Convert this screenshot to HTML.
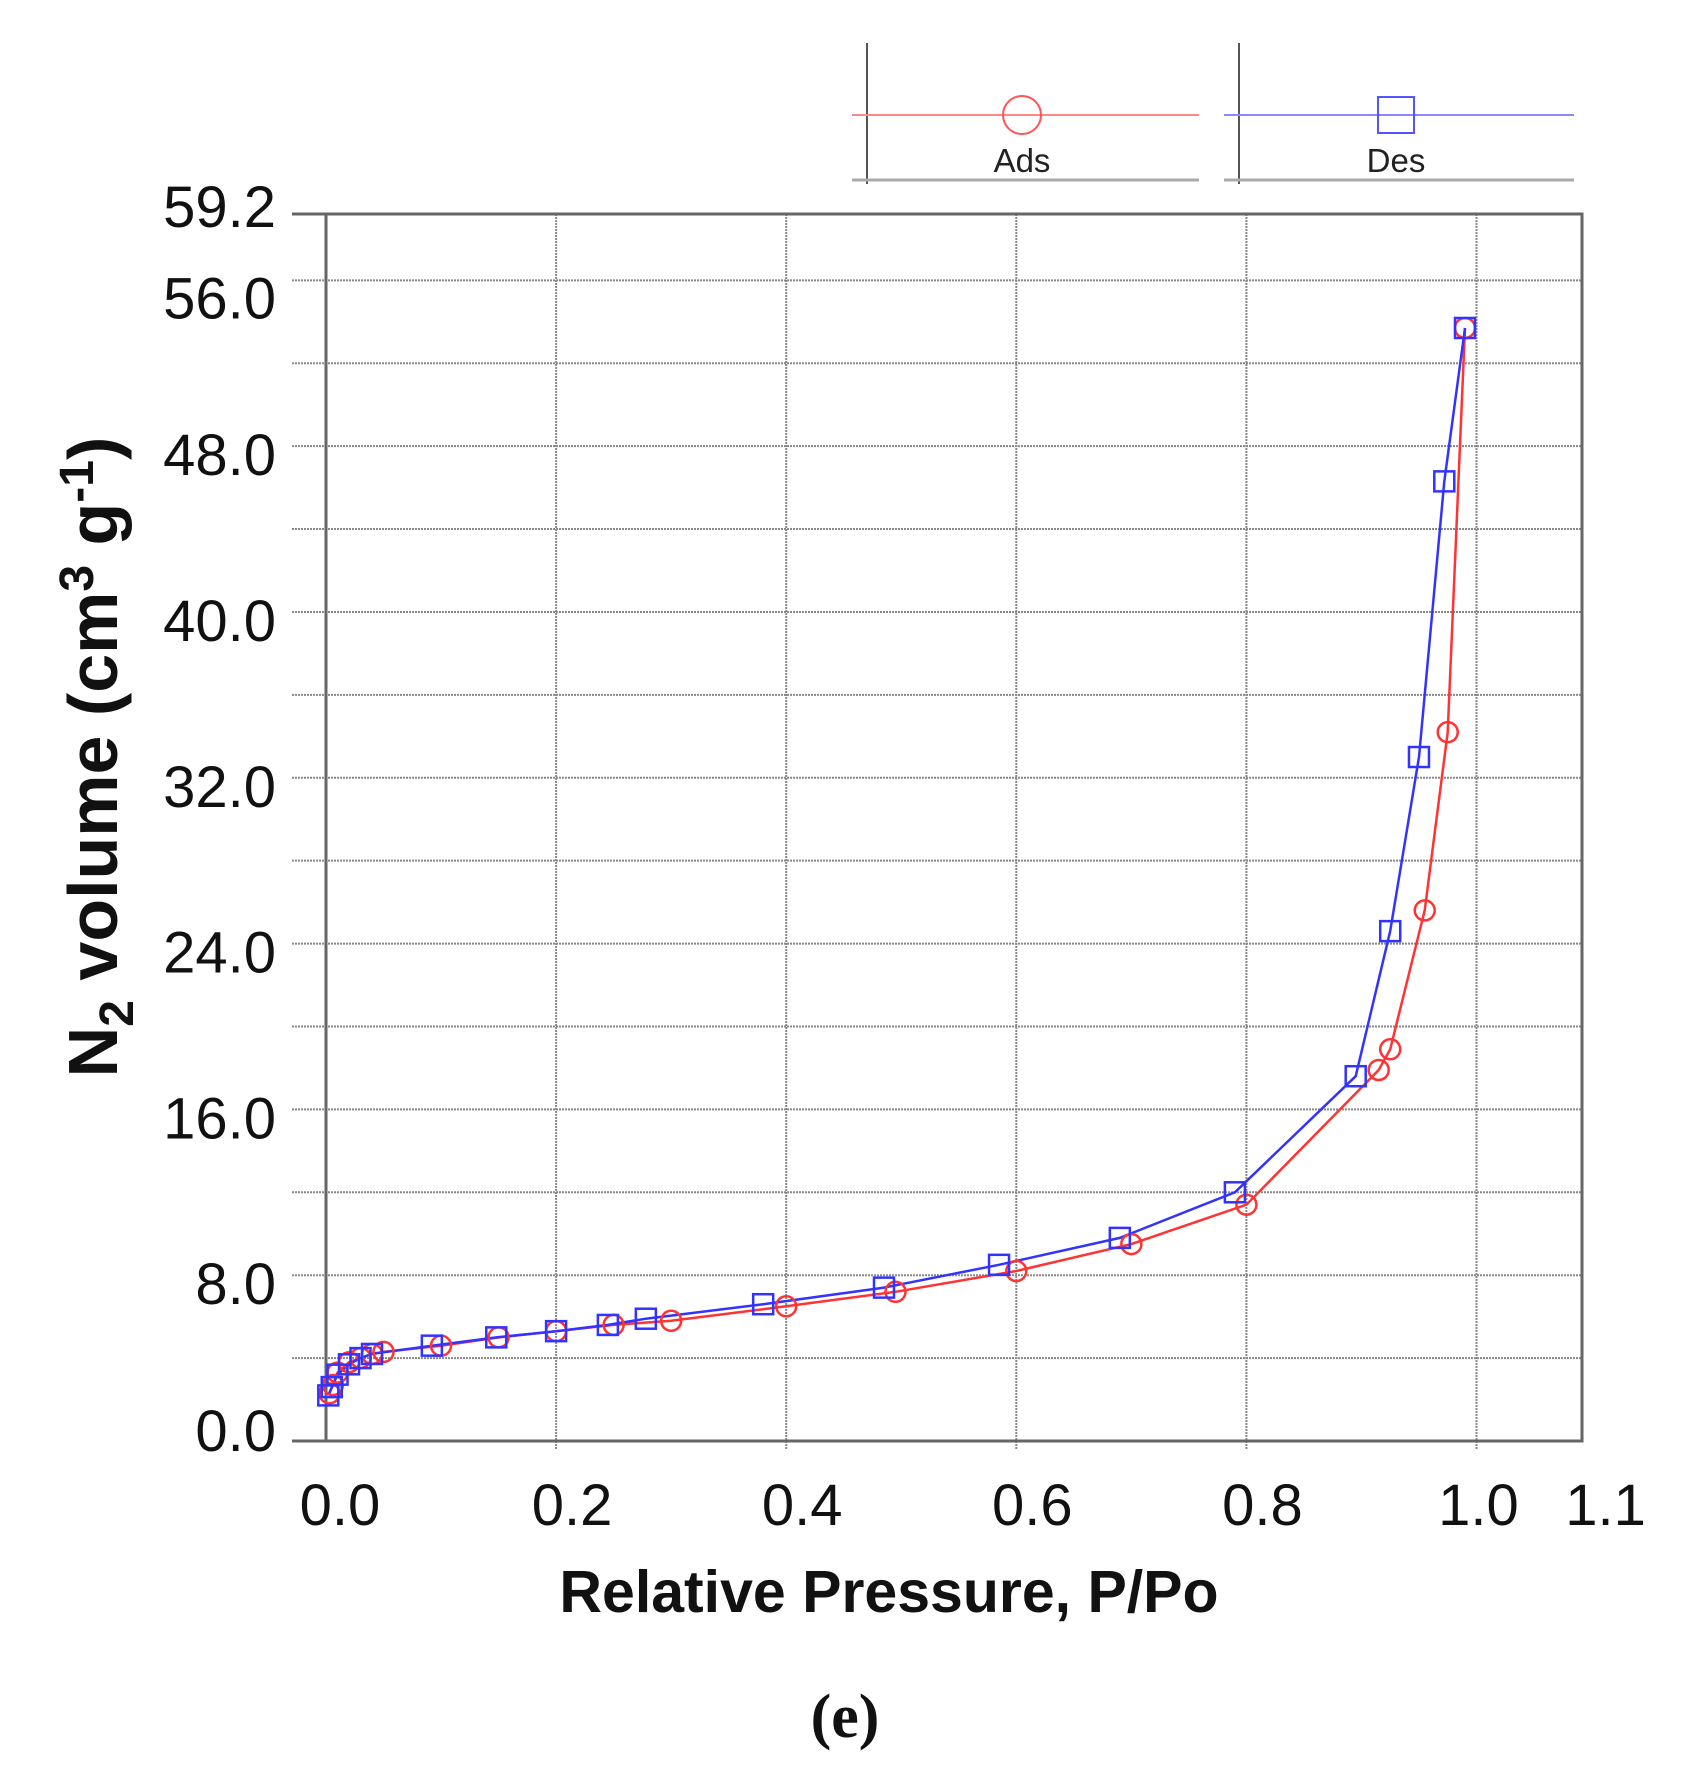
<!DOCTYPE html>
<html><head><meta charset="utf-8"><style>
html,body{margin:0;padding:0;background:#fff;}
svg{display:block;}
text{font-family:"Liberation Sans",Arial,sans-serif;}
</style></head><body>
<svg id="chart" width="1708" height="1779" viewBox="0 0 1708 1779" xmlns="http://www.w3.org/2000/svg">
<g id="grid"></g>
<g id="axes"></g>
<g id="series"></g>
<g id="legend">
  <line x1="867" y1="43" x2="867" y2="184" stroke="#555" stroke-width="2"/>
  <line x1="852" y1="115" x2="1199" y2="115" stroke="#f88" stroke-width="2"/>
  <circle cx="1022" cy="115" r="19" fill="none" stroke="#f55" stroke-width="2"/>
  <line x1="852" y1="180" x2="1199" y2="180" stroke="#aaa" stroke-width="3"/>
  <text x="1022" y="172" font-size="33" text-anchor="middle" fill="#222">Ads</text>
  <line x1="1239" y1="43" x2="1239" y2="184" stroke="#555" stroke-width="2"/>
  <line x1="1224" y1="115" x2="1574" y2="115" stroke="#88f" stroke-width="2"/>
  <rect x="1378" y="97" width="36" height="36" fill="none" stroke="#55f" stroke-width="2"/>
  <line x1="1224" y1="180" x2="1574" y2="180" stroke="#aaa" stroke-width="3"/>
  <text x="1396" y="172" font-size="33" text-anchor="middle" fill="#222">Des</text>
</g>
<text x="889" y="1612" font-size="59" font-weight="bold" text-anchor="middle" fill="#111">Relative Pressure, P/Po</text>
<text transform="translate(117,757) rotate(-90)" font-size="70" font-weight="bold" text-anchor="middle" fill="#111">N<tspan font-size="48" dy="16">2</tspan><tspan dy="-16"> volume (cm</tspan><tspan font-size="48" dy="-24">3</tspan><tspan dy="24"> g</tspan><tspan font-size="48" dy="-24">-1</tspan><tspan dy="24">)</tspan></text>
<text x="845" y="1737" font-size="62" font-weight="bold" text-anchor="middle" fill="#111" style="font-family:'Liberation Serif',serif">(e)</text>
</svg>
<script>
const adsX=[0.003,0.006,0.01,0.02,0.03,0.04,0.05,0.1,0.15,0.2,0.25,0.3,0.4,0.495,0.6,0.7,0.8,0.915,0.925,0.955,0.975,0.99];
const adsY=[2.3,2.7,3.3,3.8,4.0,4.2,4.3,4.6,5.0,5.3,5.6,5.8,6.5,7.2,8.2,9.5,11.4,17.9,18.9,25.6,34.2,53.7];
const desX=[0.99,0.972,0.95,0.925,0.895,0.79,0.69,0.585,0.485,0.38,0.278,0.245,0.2,0.148,0.092,0.04,0.03,0.02,0.01,0.005,0.002];
const desY=[53.7,46.3,33.0,24.6,17.6,12.0,9.8,8.5,7.4,6.6,5.9,5.6,5.3,5.0,4.6,4.2,4.0,3.7,3.2,2.6,2.2];
const xTicks=[0.0,0.2,0.4,0.6,0.8,1.0,1.1];
const xTickLabels=["0.0","0.2","0.4","0.6","0.8","1.0","1.1"];
const yGrid=[4,8,12,16,20,24,28,32,36,40,44,48,52,56];
const yTicks=[0,8,16,24,32,40,48,56,59.2];
const yTickLabels=["0.0","8.0","16.0","24.0","32.0","40.0","48.0","56.0","59.2"];
const NS="http://www.w3.org/2000/svg";
const X0=326,XR=1582,XPU=1150.5,Y0=1441,Y1=214,YMAX=59.2;
const sx=v=>X0+XPU*v, sy=v=>Y0-(Y0-Y1)*v/YMAX;
function mk(tag,attrs,parent){const e=document.createElementNS(NS,tag);for(const k in attrs)e.setAttribute(k,attrs[k]);parent.appendChild(e);return e;}
const grid=document.getElementById('grid'),axes=document.getElementById('axes'),series=document.getElementById('series');
yGrid.forEach(v=>{const l=mk('line',{x1:292,x2:XR,y1:sy(v),y2:sy(v),stroke:'#888','stroke-width':2,'stroke-dasharray':'2,1'},grid);

});
xTicks.forEach(v=>{if(v===0||v>=1.1)return;const l=mk('line',{x1:sx(v),x2:sx(v),y1:Y1,y2:Y0+8,stroke:'#888','stroke-width':2,'stroke-dasharray':'2,1'},grid);

});
mk('rect',{x:X0,y:Y1,width:XR-X0,height:Y0-Y1,fill:'none',stroke:'#666','stroke-width':3},axes);
mk('line',{x1:292,x2:X0,y1:Y1,y2:Y1,stroke:'#666','stroke-width':3},axes);
mk('line',{x1:292,x2:X0,y1:Y0,y2:Y0,stroke:'#666','stroke-width':3},axes);
yTicks.forEach((v,i)=>{const off=(v===0)?10:(v===56?38:(v===59.2?13:29));const t=mk('text',{x:276,y:sy(v)+off,'font-size':58,'text-anchor':'end',fill:'#111'},axes);t.textContent=yTickLabels[i];

});
xTicks.forEach((v,i)=>{const dx=(i===0)?14:(i===5?2:(i===6?14:16));const t=mk('text',{x:sx(v)+dx,y:1525,'font-size':58,'text-anchor':'middle',fill:'#111'},axes);t.textContent=xTickLabels[i];

});
function line(xs,ys,col,name){const d=xs.map((x,i)=>(i?'L':'M')+sx(x).toFixed(1)+','+sy(ys[i]).toFixed(1)).join('');
const p=mk('path',{d:d,fill:'none',stroke:col,'stroke-width':2.5},series);

}
line(adsX,adsY,'#f33','ads-line');
line(desX,desY,'#33f','des-line');
adsX.forEach((x,i)=>{const c=mk('circle',{cx:sx(x),cy:sy(adsY[i]),r:10,fill:'none',stroke:'#f33','stroke-width':2.5},series);

});
desX.forEach((x,i)=>{const r=mk('rect',{x:sx(x)-10,y:sy(desY[i])-10,width:20,height:20,fill:'none',stroke:'#33f','stroke-width':2.5},series);

});
</script>
</body></html>
